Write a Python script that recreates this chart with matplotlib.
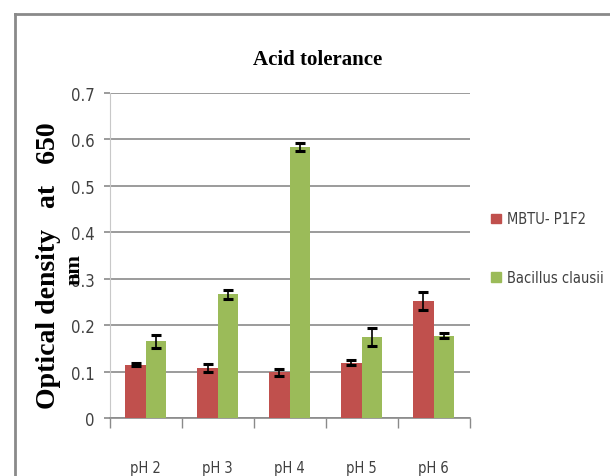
import numpy as np
import matplotlib
matplotlib.use('Agg')
import matplotlib.pyplot as plt
from matplotlib.lines import Line2D
from matplotlib.patches import Patch
from matplotlib import font_manager

categories = ['pH 2', 'pH 3', 'pH 4', 'pH 5', 'pH 6']
series_names = ['MBTU- P1F2', 'Bacillus clausii']
mbtu = [0.115, 0.108, 0.099, 0.120, 0.252]
mbtu_err = [0.003, 0.009, 0.007, 0.005, 0.020]
bacillus = [0.166, 0.267, 0.584, 0.175, 0.178]
bacillus_err = [0.014, 0.010, 0.009, 0.020, 0.006]
yticks = [0, 0.1, 0.2, 0.3, 0.4, 0.5, 0.6, 0.7]
ytick_labels = ['0', '0.1', '0.2', '0.3', '0.4', '0.5', '0.6', '0.7']

red = '#C0504D'
green = '#9BBB59'
narrow = font_manager.FontProperties(family='DejaVu Sans', stretch='condensed')

fig = plt.figure(figsize=(6.1, 4.77), dpi=100)
ax = fig.add_axes([0.180, 0.121, 0.590, 0.682])

x = np.arange(len(categories))
w = 0.285
ax.bar(x - w / 2, mbtu, w, color=red, yerr=mbtu_err, capsize=3.5,
       error_kw=dict(ecolor='black', elinewidth=1.2, capthick=2.2), zorder=3)
ax.bar(x + w / 2, bacillus, w, color=green, yerr=bacillus_err, capsize=3.5,
       error_kw=dict(ecolor='black', elinewidth=1.2, capthick=2.2), zorder=3)

ax.set_xlim(-0.5, len(categories) - 0.5)
ax.set_ylim(0, 0.7)
ax.set_yticks(yticks)
ax.set_yticklabels(ytick_labels, fontproperties=narrow, fontsize=12, color='#404040')
ax.yaxis.grid(True, color='#8a8a8a', linewidth=1.2, zorder=0)
ax.set_axisbelow(True)

ax.set_xticks(x)
ax.set_xticklabels(categories, fontproperties=narrow, fontsize=10.5, color='#404040')
ax.tick_params(axis='x', length=0, pad=30)
ax.set_xticks(np.arange(len(categories) + 1) - 0.5, minor=True)
ax.tick_params(axis='x', which='minor', length=7, color='#8a8a8a', width=1)
ax.tick_params(axis='y', length=4, color='#8a8a8a', width=1.2, pad=7)

for s in ['top', 'right']:
    ax.spines[s].set_visible(False)
ax.spines['left'].set_color('#c8c8c8')
ax.spines['bottom'].set_color('#8a8a8a')
ax.spines['bottom'].set_linewidth(1.2)

fig.text(0.521, 0.874, 'Acid tolerance', ha='center', va='center',
         family='Liberation Serif', fontweight='bold', fontsize=15)

fig.text(0.080, 0.444, 'Optical density   at   650', rotation=90, ha='center',
         va='center', family='Liberation Serif', fontweight='bold', fontsize=20)
fig.text(0.122, 0.434, 'nm', rotation=90, ha='center', va='center',
         family='Liberation Serif', fontweight='bold', fontsize=16)

handles = [Patch(color=red), Patch(color=green)]
leg = fig.legend(handles, series_names, loc='center left',
                 bbox_to_anchor=(0.785, 0.478), frameon=False,
                 handlelength=0.7, handleheight=0.7, handletextpad=0.4,
                 labelspacing=3.1, prop=narrow)
for t in leg.get_texts():
    t.set_color('#404040')
    t.set_fontsize(10.5)

# outer frame
fig.add_artist(Line2D([0.024, 1.0], [0.969, 0.969], color='#8a8a8a',
                      linewidth=2, transform=fig.transFigure))
fig.add_artist(Line2D([0.024, 0.024], [0.0, 0.969], color='#8a8a8a',
                      linewidth=2, transform=fig.transFigure))

fig.savefig('out.png', dpi=100)
